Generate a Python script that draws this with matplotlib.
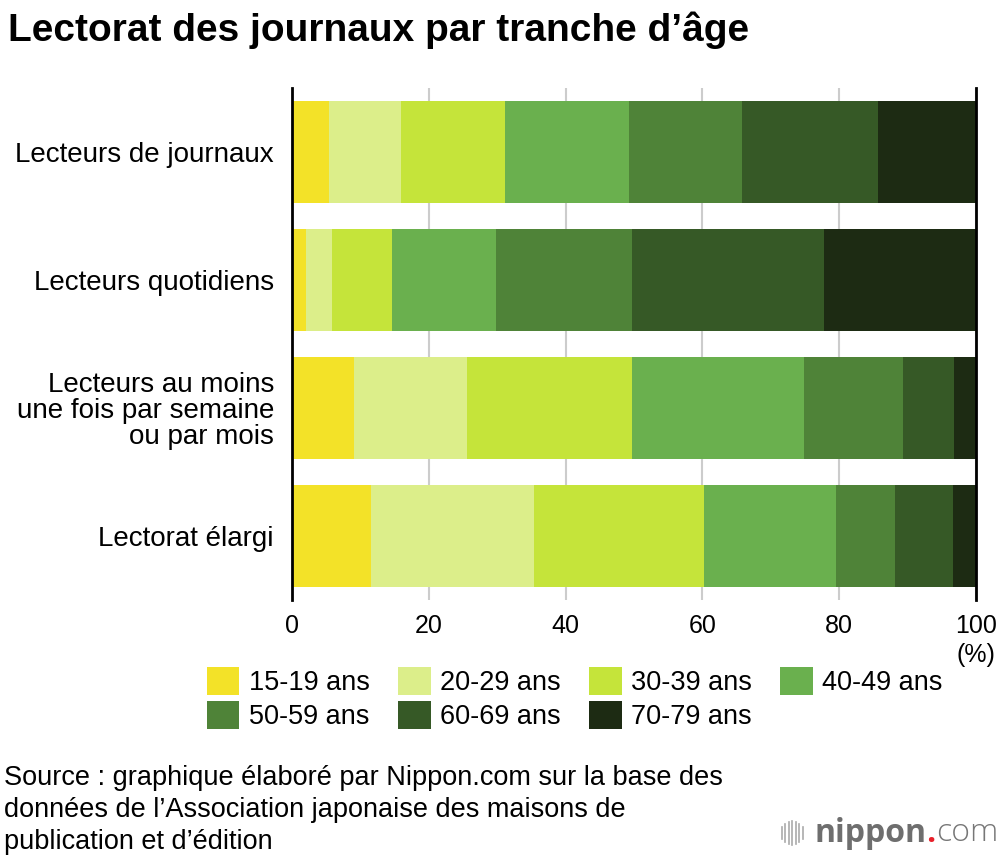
import matplotlib.pyplot as plt
from matplotlib.patches import Patch
from matplotlib.lines import Line2D

plt.rcParams['font.family'] = ['Liberation Sans', 'DejaVu Sans']

# data (% of readers by age group)
categories = ['Lecteurs de journaux', 'Lecteurs quotidiens',
              'Lecteurs au moins\nune fois par semaine\nou par mois', 'Lectorat élargi']
age_groups = ['15-19 ans', '20-29 ans', '30-39 ans', '40-49 ans',
              '50-59 ans', '60-69 ans', '70-79 ans']
values = [
    [5.4, 10.5, 15.2, 18.2, 16.5, 19.8, 14.4],
    [2.1, 3.8, 8.7, 15.2, 19.9, 28.1, 22.2],
    [9.1, 16.5, 24.1, 25.1, 14.6, 7.4, 3.2],
    [11.5, 23.9, 24.9, 19.2, 8.6, 8.6, 3.3],
]
colors = ['#f3e228', '#dcee8a', '#c5e43a', '#6ab04e', '#4f8338', '#365926', '#1d2b13']
ticks = [0, 20, 40, 60, 80, 100]

fig = plt.figure(figsize=(10, 8.6), dpi=100)
ax = fig.add_axes([0.292, 0.3023, 0.684, 0.5954])

y = list(range(len(categories)))
left = [0] * len(categories)
for j, grp in enumerate(age_groups):
    w = [row[j] for row in values]
    ax.barh(y, w, left=left, height=0.79, color=colors[j], label=grp, zorder=3)
    left = [a + b for a, b in zip(left, w)]

ax.set_xlim(0, 100)
ax.set_ylim(3.5, -0.5)
ax.set_yticks(y)
ax.set_yticklabels(categories, fontsize=20, linespacing=1.0)
ax.set_xticks(ticks)
ax.set_xticklabels([str(t) for t in ticks], fontsize=18)
ax.tick_params(axis='y', length=0, pad=13)
ax.tick_params(axis='x', length=0, pad=10)
for lab in ax.get_yticklabels():
    lab.set_horizontalalignment('right')
    lab.set_multialignment('right')
ax.grid(axis='x', color='#cccccc', linewidth=1.5, zorder=0)
for s in ['top', 'bottom']:
    ax.spines[s].set_visible(False)
for s in ['left', 'right']:
    ax.spines[s].set_color('black')
    ax.spines[s].set_linewidth(2)
    ax.spines[s].set_zorder(4)

fig.text(0.976, 1 - 655 / 860, '(%)', fontsize=18, ha='center', va='center')

# legend filled row by row
order = [0, 4, 1, 5, 2, 6, 3]
handles = [Patch(facecolor=colors[i], edgecolor='none') for i in order]
labels = [age_groups[i] for i in order]
fig.legend(handles, labels, loc='upper left', bbox_to_anchor=(0.196, 1 - 656 / 860),
           ncol=4, frameon=False, fontsize=19.5, handlelength=1.2, handleheight=1.2,
           handletextpad=0.35, columnspacing=1.05, labelspacing=0.2, borderaxespad=0)

fig.text(0.008, 1 - 30 / 860, "Lectorat des journaux par tranche d’âge",
         fontsize=28, fontweight='bold', va='center', ha='left')

fig.text(0.004, 1 - 765 / 860,
         "Source : graphique élaboré par Nippon.com sur la base des\n"
         "données de l’Association japonaise des maisons de\n"
         "publication et d’édition",
         fontsize=19.5, va='top', ha='left', linespacing=1.3)

# logo
fig.canvas.draw()
r = fig.canvas.get_renderer()
ly = 1 - 833 / 860
t_com = fig.text(0.998, ly, 'com', fontsize=23, color='#777777', ha='right', va='center',
                 family='Open Sans', fontweight='light')
x0 = t_com.get_window_extent(r).x0 / fig.bbox.width
t_dot = fig.text(x0, ly, '.', fontsize=23, color='#e8202a', ha='right', va='center',
                 family='Open Sans', fontweight='bold')
x1 = t_dot.get_window_extent(r).x0 / fig.bbox.width
t_nip = fig.text(x1, ly, 'nippon', fontsize=23, color='#6e6e6e', ha='right', va='center',
                 family='Open Sans', fontweight='bold')
x2 = t_nip.get_window_extent(r).x0
icon_h = [12, 18, 22, 24, 22, 18, 12]
for k, h in enumerate(icon_h):
    xp = (x2 - 12 - (len(icon_h) - 1 - k) * 3.5) / 1000
    fig.add_artist(Line2D([xp, xp], [(27 - h / 2) / 860, (27 + h / 2) / 860],
                          color='#aaaaaa', linewidth=1.2))

fig.savefig('out.png', dpi=100)
